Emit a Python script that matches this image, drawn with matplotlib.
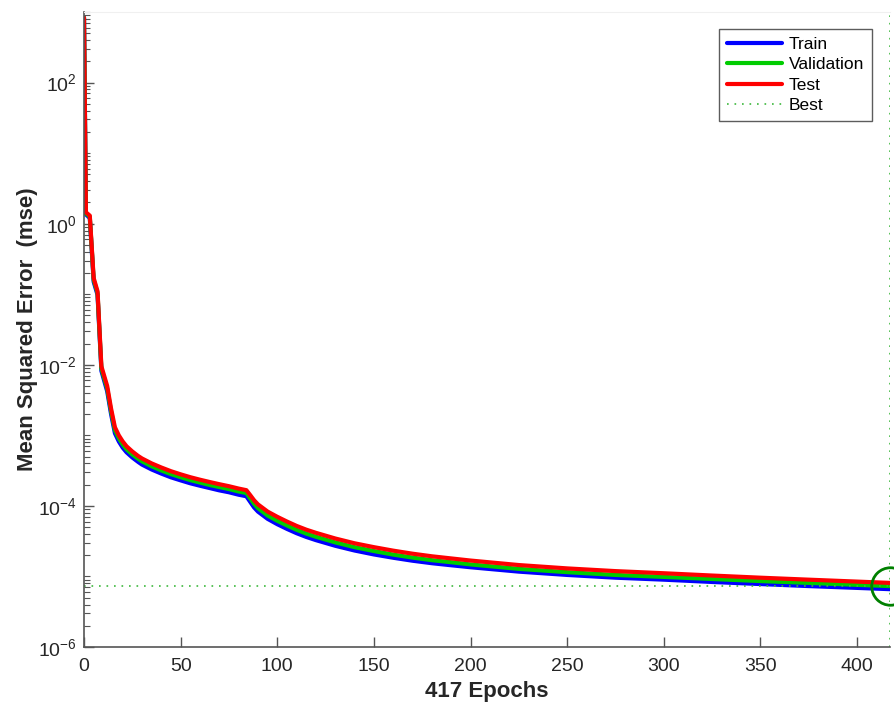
import numpy as np
import matplotlib
matplotlib.use("Agg")
import matplotlib.pyplot as plt
from matplotlib.ticker import LogLocator, FixedLocator, NullFormatter

plt.rcParams['font.family'] = ['Liberation Sans', 'DejaVu Sans']

epochs = [0, 1, 3, 5, 7, 9, 12, 14, 16, 18, 20, 22, 25, 28, 30, 35, 40, 45, 50, 55, 60,
          65, 70, 75, 80, 84, 86, 88, 90, 95, 100, 105, 110, 115, 120, 130, 140, 150,
          160, 170, 180, 190, 200, 225, 250, 275, 300, 325, 350, 375, 400, 417]

test_mse = [830, 1.45, 1.3, 0.17, 0.11, 0.0095, 0.005, 0.0024, 0.0013, 1.0e-3, 8.2e-4,
            7.0e-4, 5.9e-4, 5.1e-4, 4.7e-4, 4.0e-4, 3.5e-4, 3.1e-4, 2.8e-4, 2.55e-4,
            2.35e-4, 2.18e-4, 2.03e-4, 1.9e-4, 1.76e-4, 1.67e-4, 1.42e-4, 1.2e-4, 1.05e-4,
            8.3e-5, 7.0e-5, 6.0e-5, 5.2e-5, 4.6e-5, 4.15e-5, 3.45e-5, 2.95e-5, 2.6e-5,
            2.32e-5, 2.1e-5, 1.93e-5, 1.8e-5, 1.68e-5, 1.45e-5, 1.3e-5, 1.19e-5, 1.11e-5,
            1.03e-5, 9.6e-6, 9.0e-6, 8.45e-6, 8.1e-6]

val_mse = [830, 1.4, 1.25, 0.16, 0.104, 0.0088, 0.0046, 0.0022, 0.00118, 9.1e-4, 7.45e-4,
           6.35e-4, 5.35e-4, 4.65e-4, 4.28e-4, 3.64e-4, 3.18e-4, 2.82e-4, 2.55e-4, 2.32e-4,
           2.14e-4, 1.98e-4, 1.85e-4, 1.73e-4, 1.6e-4, 1.52e-4, 1.28e-4, 1.07e-4, 9.3e-5,
           7.3e-5, 6.15e-5, 5.28e-5, 4.58e-5, 4.05e-5, 3.65e-5, 3.04e-5, 2.6e-5, 2.29e-5,
           2.04e-5, 1.85e-5, 1.7e-5, 1.59e-5, 1.48e-5, 1.28e-5, 1.15e-5, 1.05e-5, 9.85e-6,
           9.2e-6, 8.6e-6, 8.1e-6, 7.6e-6, 7.3e-6]

train_mse = [830, 1.35, 1.2, 0.15, 0.098, 0.0082, 0.0042, 0.002, 0.00107, 8.2e-4, 6.7e-4,
             5.75e-4, 4.85e-4, 4.2e-4, 3.85e-4, 3.28e-4, 2.87e-4, 2.54e-4, 2.3e-4, 2.09e-4,
             1.93e-4, 1.79e-4, 1.66e-4, 1.56e-4, 1.44e-4, 1.37e-4, 1.14e-4, 9.5e-5, 8.3e-5,
             6.55e-5, 5.5e-5, 4.72e-5, 4.1e-5, 3.63e-5, 3.27e-5, 2.72e-5, 2.33e-5, 2.05e-5,
             1.84e-5, 1.67e-5, 1.54e-5, 1.44e-5, 1.35e-5, 1.17e-5, 1.05e-5, 9.6e-6, 9.0e-6,
             8.35e-6, 7.8e-6, 7.3e-6, 6.88e-6, 6.6e-6]

best_epoch = 417
best_perf = 7.3e-6
n_epochs = 417

x_ticks = [0, 50, 100, 150, 200, 250, 300, 350, 400]
y_major = [1e-6, 1e-4, 1e-2, 1e0, 1e2]
y_labels = [r'$\mathregular{10^{-6}}$', r'$\mathregular{10^{-4}}$', r'$\mathregular{10^{-2}}$',
            r'$\mathregular{10^{0}}$', r'$\mathregular{10^{2}}$']

fig = plt.figure(figsize=(8.94, 7.08), dpi=100)
ax = fig.add_axes([84/894, 1 - 647/708, (890 - 84)/894, (647 - 12)/708])

kw = dict(lw=3.0, solid_joinstyle='round', solid_capstyle='round')
ax.plot(epochs, train_mse, color='#0000ff', label='Train', **kw)
ax.plot(epochs, val_mse, color='#00cc00', label='Validation', **kw)
ax.plot(epochs, test_mse, color='#ff0000', label='Test', **kw)
ax.axhline(best_perf, color='#3cb83c', lw=1.2, ls=(0, (1, 3.5)), label='Best')
ax.axvline(best_epoch, color='#3cb83c', lw=1.2, ls=(0, (1, 3.5)))
ax.plot([best_epoch], [best_perf], 'o', ms=27, mfc='none', mec='#008000', mew=2, clip_on=False)

ax.set_yscale('log')
ax.set_xlim(0, n_epochs)
ax.set_ylim(1e-6, 1e3)

ax.set_xticks(x_ticks)
ax.yaxis.set_major_locator(FixedLocator(y_major))
ax.set_yticklabels(y_labels)
ax.yaxis.set_minor_locator(LogLocator(base=10, subs=np.arange(1, 10), numticks=100))
ax.yaxis.set_minor_formatter(NullFormatter())

ax.tick_params(axis='both', which='major', direction='in', length=7, width=1,
               colors='#555555', labelcolor='#262626', labelsize=14)
ax.tick_params(axis='y', which='minor', direction='in', length=4, width=0.8, colors='#555555')
ax.tick_params(axis='x', pad=8)
ax.tick_params(axis='y', which='major', pad=5)

for s in ['left', 'bottom']:
    ax.spines[s].set_color('#555555')
    ax.spines[s].set_linewidth(1.2)
ax.spines['top'].set_color('#f0f0f0')
ax.spines['right'].set_visible(False)

ax.set_xlabel(f'{n_epochs} Epochs', fontsize=16, fontweight='bold', color='#262626', labelpad=4)
ax.set_ylabel('Mean Squared Error  (mse)', fontsize=16, fontweight='bold', color='#262626')
ax.yaxis.set_label_coords(-0.057, 0.5)

leg = ax.legend(loc='upper right', bbox_to_anchor=(0.978, 0.973), fontsize=12.5, frameon=True,
                fancybox=False, edgecolor='#333333', handlelength=3.2, handletextpad=0.4,
                borderpad=0.45, labelspacing=0.3, borderaxespad=0)
leg.get_frame().set_linewidth(1.0)

fig.savefig('out.png', dpi=100, facecolor='white')
